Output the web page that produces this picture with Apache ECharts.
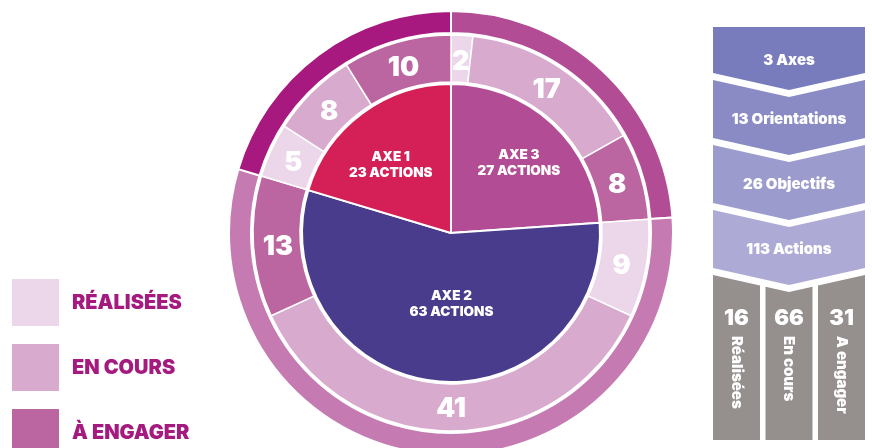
<!DOCTYPE html>
<html>
<head>
<meta charset="utf-8">
<script src="https://cdn.jsdelivr.net/npm/echarts@6/dist/echarts.min.js"></script>
<style>
html,body{margin:0;padding:0;background:#fff;}
#main{width:872px;height:448px;}
</style>
</head>
<body>
<div id="main"></div>
<script>
// axes (sens horaire depuis midi)
var axes=['AXE 3','AXE 2','AXE 1'];
var axeActions=[27,63,23];
// statuts des actions
var statuts=['RÉALISÉES','EN COURS','À ENGAGER'];
// détail par axe : réalisées, en cours, à engager
var detailAxe3=[2,17,8];
var detailAxe2=[9,41,13];
var detailAxe1=[5,8,10];
// pyramide de droite
var etapes=['3 Axes','13 Orientations','26 Objectifs','113 Actions'];
var bilanNoms=['Réalisées','En cours','A engager'];
var bilanValeurs=[16,66,31];

var couleursAxe=['#b24d95','#4a3c8c','#d41f57'];
var couleursBord=['#b24d95','#c57bb2','#a7197f'];
var couleursStatut=['#ecd6e9','#d8aacd','#bb66a0'];
var couleursEtape=['#787cbc','#8a8bc5','#9c9bcd','#aeaad6'];
var police='Inter';
var gras=900;

var myChart=echarts.init(document.getElementById('main'));

//données des anneaux
var interieur=[],milieu=[],exterieur=[];
var details=[detailAxe3,detailAxe2,detailAxe1];
for(var i=0;i<axes.length;i++){
	interieur.push({name:axes[i],value:axeActions[i],itemStyle:{color:couleursAxe[i]}});
	exterieur.push({name:axes[i]+' ',value:axeActions[i],itemStyle:{color:couleursBord[i]}});
	for(var j=0;j<statuts.length;j++){
		milieu.push({name:statuts[j],value:details[i][j],itemStyle:{color:couleursStatut[j]}});
	}
}

//angles médians (pour décaler les étiquettes de l'anneau)
function anglesMedians(valeurs){
	var t=0,c=0,res=[];
	for(var i=0;i<valeurs.length;i++)t+=valeurs[i];
	for(var i=0;i<valeurs.length;i++){
		res.push((c+valeurs[i]/2)/t*Math.PI*2);
		c+=valeurs[i];
	}
	return res;
}
var anglesMilieu=anglesMedians(milieu.map(function(d){return d.value;}));
//décalage des étiquettes centrales (AXE 3, AXE 2, AXE 1)
var decalages=[[15,-13],[9,-6],[-14,-6]];

var D=17;//profondeur des chevrons
var L=152;//largeur de la pyramide
function hautChevron(i){return -12+65*i;}

var option={
	animation:false,
	legend:{
		orient:'vertical',left:10,top:277,height:190,padding:0,
		itemWidth:49,itemHeight:49,itemGap:14,
		icon:'rect',selectedMode:false,
		data:statuts,
		textStyle:{fontSize:20,fontWeight:gras,color:'#a51a7f',fontFamily:police,padding:[0,0,0,7]}
	},
	grid:{left:713,top:27,width:L,height:413},
	xAxis:{type:'value',min:0,max:L,show:false},
	yAxis:{type:'value',min:0,max:413,inverse:true,show:false},
	series:[{
		type:'pie',
		center:[451,233],radius:[0,149],
		startAngle:90,clockwise:true,silent:true,
		itemStyle:{borderColor:'#fff',borderWidth:2},
		label:{position:'inside',formatter:'{b}\n{c} ACTIONS',color:'#fff',fontSize:13.5,fontWeight:gras,fontFamily:police,lineHeight:16},
		labelLine:{show:false},
		labelLayout:function(p){
			var d=decalages[p.dataIndex];
			return {dx:d[0],dy:d[1]};
		},
		data:interieur
	},{
		type:'pie',
		center:[451,233],radius:[151,198],
		startAngle:90,clockwise:true,silent:true,
		itemStyle:{borderColor:'#fff',borderWidth:1.5},
		label:{position:'inside',formatter:'{c}',color:'#fff',fontSize:27,fontWeight:gras,fontFamily:police},
		labelLine:{show:false},
		labelLayout:function(p){
			var a=anglesMilieu[p.dataIndex],d=-4;
			return {dx:Math.sin(a)*d,dy:-Math.cos(a)*d+2};
		},
		data:milieu
	},{
		type:'pie',
		center:[451,233],radius:[200,222],
		startAngle:90,clockwise:true,silent:true,
		itemStyle:{borderColor:'#fff',borderWidth:2},
		label:{show:false},labelLine:{show:false},
		data:exterieur
	},{
		type:'custom',clip:false,silent:true,
		data:etapes.map(function(e,i){return [i];}),
		renderItem:function(params,api){
			var i=params.dataIndex;
			var h=hautChevron(i),b=h+58;
			var pts=i===0?[[0,0],[L,0],[L,b],[L/2,b+D],[0,b]]
				:[[0,h],[L/2,h+D],[L,h],[L,b],[L/2,b+D],[0,b]];
			var ty=(Math.max(h,0)+b+D)/2+2;
			var c=api.coord([L/2,ty]);
			return {type:'group',children:[{
				type:'polygon',
				shape:{points:pts.map(function(p){return api.coord(p);})},
				style:{fill:couleursEtape[i]}
			},{
				type:'text',x:c[0],y:c[1],
				style:{text:etapes[i],fill:'#fff',fontSize:15,fontWeight:gras,fontFamily:police,align:'center',verticalAlign:'middle'}
			}]};
		}
	},{
		type:'custom',clip:false,silent:true,
		data:bilanValeurs.map(function(v,i){return [i,v];}),
		renderItem:function(params,api){
			var j=params.dataIndex;
			var w=47,g=(L-3*w)/2;
			var x0=j*(w+g),x1=x0+w;
			var h=hautChevron(etapes.length);
			function yh(x){return h+D*(1-Math.abs(x-L/2)/(L/2));}
			var pts=[[x0,yh(x0)]];
			if(x0<L/2&&x1>L/2)pts.push([L/2,h+D]);
			pts.push([x1,yh(x1)],[x1,413],[x0,413]);
			var cx=(x0+x1)/2;
			var cn=api.coord([cx,291]);
			var cv=api.coord([cx,309]);
			return {type:'group',children:[{
				type:'polygon',
				shape:{points:pts.map(function(p){return api.coord(p);})},
				style:{fill:'#958f8e'}
			},{
				type:'text',x:cn[0],y:cn[1],
				style:{text:String(api.value(1)),fill:'#fff',fontSize:22,fontWeight:gras,fontFamily:police,align:'center',verticalAlign:'middle'}
			},{
				type:'text',x:cv[0],y:cv[1],rotation:-Math.PI/2,
				style:{text:bilanNoms[j],fill:'#fff',fontSize:15,fontWeight:gras,fontFamily:police,align:'left',verticalAlign:'middle'}
			}]};
		}
	}]
};
myChart.setOption(option);
</script>
</body>
</html>
